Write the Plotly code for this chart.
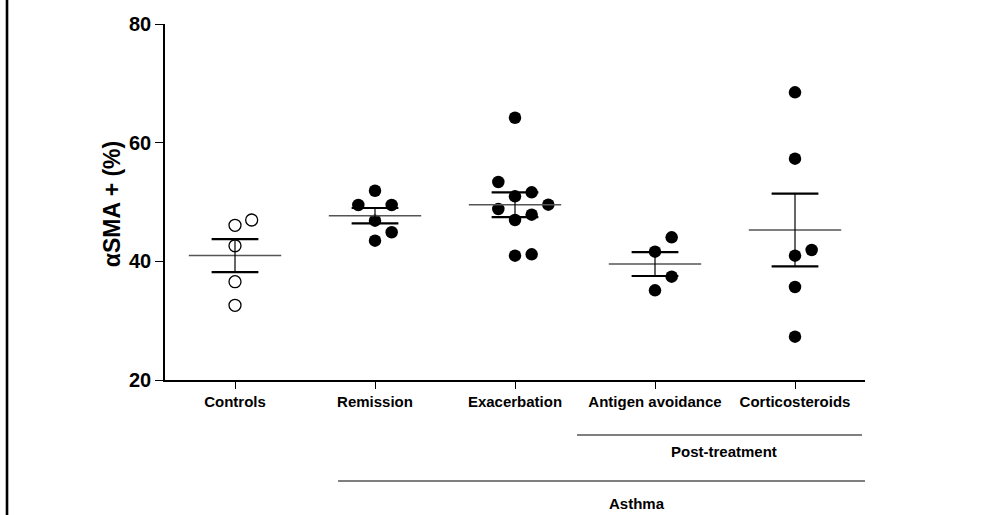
import numpy as np
import plotly.graph_objects as go

# alpha-SMA positive cells (%) per subject
categories = ["Controls", "Remission", "Exacerbation", "Antigen avoidance", "Corticosteroids"]
controls = [46.97, 46.07, 42.63, 36.57, 32.59]
remission = [51.9, 49.5, 49.5, 46.85, 44.9, 43.48]
exacerbation = [64.2, 53.37, 51.63, 50.96, 49.55, 48.82, 47.86, 46.96, 41.18, 40.95]
antigen_avoidance = [44.05, 41.63, 37.41, 35.11]
corticosteroids = [68.48, 57.3, 41.91, 40.95, 35.67, 27.3]
groups = [controls, remission, exacerbation, antigen_avoidance, corticosteroids]
open_marker = [True, False, False, False, False]

y_ticks = [20, 40, 60, 80]
FONT = "Arial, Liberation Sans, sans-serif"

SLOT = 0.119      # horizontal step between swarm columns (category units)
MIN_GAP = 2.9     # vertical distance (data units) below which points collide
MEAN_HALF = 0.33
CAP_HALF = 0.167


def swarm_slots(values, min_gap):
    """Greedy column assignment: lowest values first, centre column preferred."""
    order = sorted(range(len(values)), key=lambda i: values[i])
    columns = {}
    slots = [0] * len(values)
    for i in order:
        v = values[i]
        for s in (0, 1, -1, 2, -2, 3, -3, 4, -4):
            if all(abs(v - w) >= min_gap for w in columns.get(s, [])):
                columns.setdefault(s, []).append(v)
                slots[i] = s
                break
    return slots


fig = go.Figure()

for gi, vals in enumerate(groups):
    arr = np.array(vals, dtype=float)
    slots = swarm_slots(vals, MIN_GAP)
    xs = [gi + s * SLOT for s in slots]
    if open_marker[gi]:
        marker = dict(symbol="circle-open", size=12, color="black", line=dict(width=1.3, color="black"))
    else:
        marker = dict(symbol="circle", size=12.5, color="black", line=dict(width=0))
    fig.add_trace(go.Scatter(x=xs, y=vals, mode="markers", marker=marker,
                             showlegend=False, hoverinfo="y"))

    mean = arr.mean()
    sem = arr.std(ddof=1) / np.sqrt(len(arr))
    # mean line
    fig.add_trace(go.Scatter(x=[gi - MEAN_HALF, gi + MEAN_HALF], y=[mean, mean], mode="lines",
                             line=dict(color="#555555", width=1.5), showlegend=False, hoverinfo="skip"))
    # SEM stem and caps
    fig.add_trace(go.Scatter(x=[gi, gi], y=[mean - sem, mean + sem], mode="lines",
                             line=dict(color="black", width=1.2), showlegend=False, hoverinfo="skip"))
    for yv in (mean - sem, mean + sem):
        fig.add_trace(go.Scatter(x=[gi - CAP_HALF, gi + CAP_HALF], y=[yv, yv], mode="lines",
                                 line=dict(color="black", width=2.2), showlegend=False, hoverinfo="skip"))

# group brackets beneath the category axis
brackets = [
    dict(label="Post-treatment", x0=3 - 0.557, x1=4 + 0.479, y_line=-0.1545, y_text=-0.2014, x_text=3.49),
    dict(label="Asthma", x0=1 - 0.264, x1=4 + 0.514, y_line=-0.2837, y_text=-0.3483, x_text=2.87),
]
shapes = []
annotations = []
for b in brackets:
    shapes.append(dict(type="line", xref="x", yref="paper", x0=b["x0"], x1=b["x1"],
                       y0=b["y_line"], y1=b["y_line"], line=dict(color="black", width=1.2)))
    annotations.append(dict(text=b["label"], xref="x", yref="paper", x=b["x_text"], y=b["y_text"],
                            showarrow=False, xanchor="center", yanchor="middle",
                            font=dict(family=FONT, size=15, color="black", weight="bold")))

# frame rule on the left edge of the page
shapes.append(dict(type="line", xref="paper", yref="paper", x0=-0.2257, x1=-0.2257,
                   y0=-0.40, y1=1.09, line=dict(color="black", width=2.6)))

# y-axis title
annotations.append(dict(text="αSMA + (%)", xref="paper", yref="paper", x=-0.0757, y=0.494,
                        textangle=-90, showarrow=False, xanchor="center", yanchor="middle",
                        font=dict(family=FONT, size=23, color="black", weight="bold")))

fig.update_layout(
    width=988, height=515,
    margin=dict(l=165, r=123, t=24, b=135),
    paper_bgcolor="white", plot_bgcolor="white",
    shapes=shapes, annotations=annotations,
    showlegend=False,
    xaxis=dict(range=[-0.5, 4.5], tickvals=list(range(len(categories))), ticktext=categories,
               showgrid=False, zeroline=False, showline=True, linecolor="black", linewidth=1.5,
               ticks="outside", ticklen=7, tickwidth=1.3, tickcolor="black",
               tickfont=dict(family=FONT, size=15, color="black", weight="bold")),
    yaxis=dict(range=[20, 80], tickvals=y_ticks, showgrid=False, zeroline=False,
               showline=True, linecolor="black", linewidth=1.5,
               ticks="outside", ticklen=8, tickwidth=1.3, tickcolor="black",
               tickfont=dict(family=FONT, size=20, color="black", weight="bold")),
)

fig.write_html("out.html")
